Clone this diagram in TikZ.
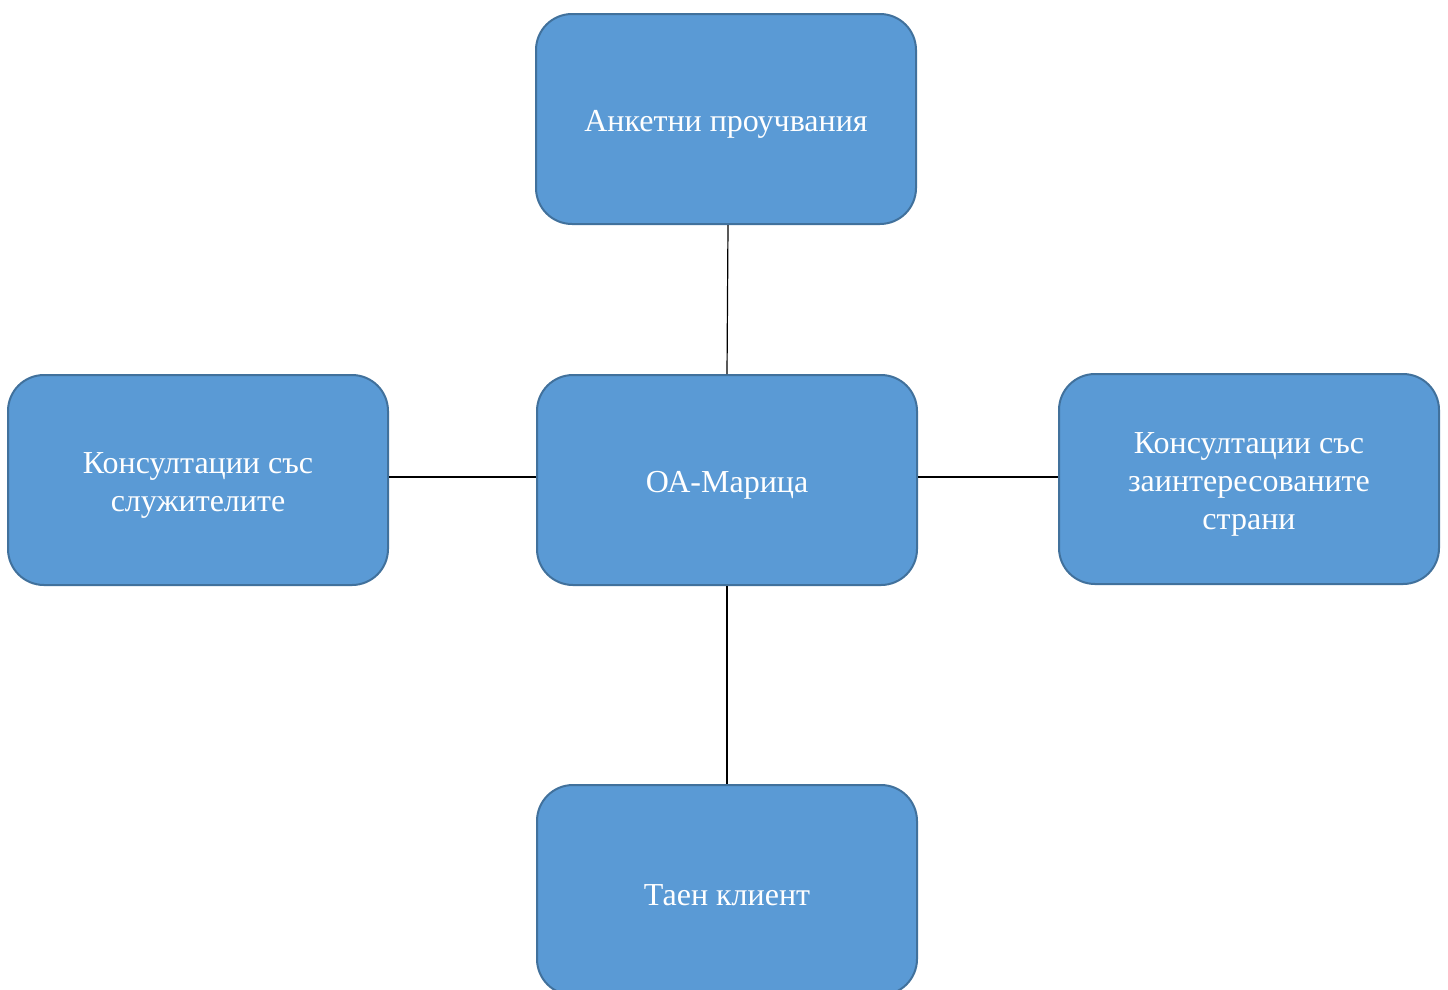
\documentclass[tikz,border=0pt]{standalone}
\usepackage{fontspec}
\setmainfont{Liberation Serif}
\definecolor{boxfill}{HTML}{5A9AD5}
\definecolor{boxline}{HTML}{41719C}
\begin{document}
\begin{tikzpicture}[x=1pt,y=-1pt,
  box/.style={draw=boxline, line width=2pt, fill=boxfill, rounded corners=36pt,
    minimum width=380pt, minimum height=210pt, inner sep=0pt,
    label={[boxtext]center:#1}},
  boxtext/.style={text=white, align=center, inner sep=0pt, yshift=-5pt,
    font=\fontsize{32}{38}\selectfont},
  link/.style={draw=black, line width=1.2pt}]
\useasboundingbox (0,0) rectangle (1448,989);
\clip (0,0) rectangle (1448,989);
\node[box={Анкетни проучвания}] (top) at (726,119) {};
\node[box={ОА-Марица}] (mid) at (727,480) {};
\node[box={Консултации със\\служителите}] (left) at (198,480) {};
\node[box={Консултации със\\заинтересованите\\страни}] (right) at (1249,479) {};
\node[box={Таен клиент}] (bot) at (727,890) {};
\draw[link] ([xshift=2pt]top.south) -- (mid.north);
\draw[link] ([yshift=3pt]left.east) -- ([yshift=3pt]mid.west);
\draw[link] ([yshift=3pt]mid.east) -- ([yshift=2pt]right.west);
\draw[link] (mid.south) -- (bot.north);
\end{tikzpicture}
\end{document}
